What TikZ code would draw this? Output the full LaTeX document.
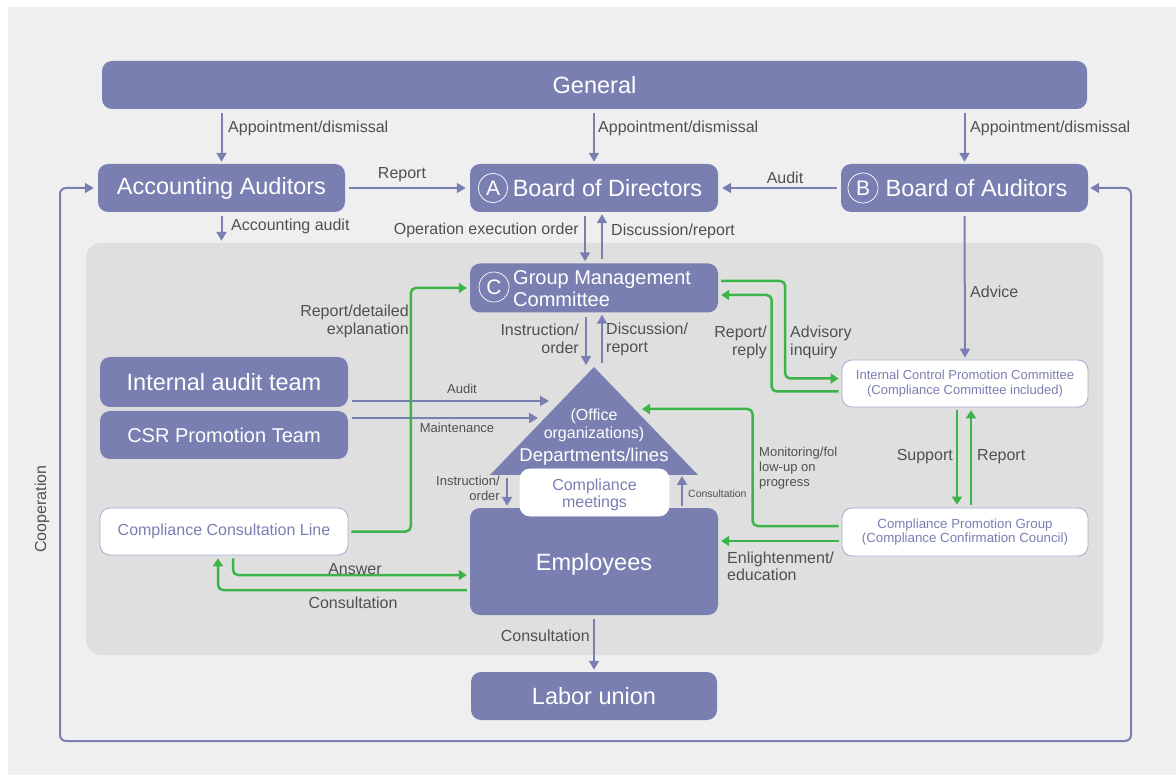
\documentclass[tikz,border=0pt]{standalone}
\usepackage{fontspec}
\setmainfont{Liberation Sans}
\usetikzlibrary{arrows.meta,calc}

\definecolor{boxpurple}{RGB}{122,127,178}
\definecolor{boxline}{RGB}{168,171,208}
\definecolor{grn}{RGB}{59,181,74}
\definecolor{lblgray}{RGB}{80,80,80}
\definecolor{bggray}{RGB}{239,239,239}
\definecolor{panelgray}{RGB}{223,223,223}

\tikzset{
  box/.style={fill=boxpurple, rounded corners=10pt, text=white, inner sep=0pt,
    font=\fontsize{23.5}{26}\selectfont, minimum height=48pt},
  wbox/.style={fill=white, draw=boxline, line width=0.8pt, rounded corners=10pt,
    text=boxpurple, inner sep=0pt, align=center},
  circ/.style={circle, draw=white, line width=0.7pt, minimum size=29pt, inner sep=0pt,
    text=white, font=\fontsize{21}{21}\selectfont},
  parr/.style={draw=boxpurple, line width=2pt, -{Triangle[length=9pt,width=10pt]},
    shorten <=4pt, shorten >=2pt},
  garr/.style={draw=grn, line width=2.5pt, -{Triangle[length=8pt,width=10pt]},
    rounded corners=5pt, shorten <=3pt, shorten >=3pt},
  lbl/.style={text=lblgray, inner sep=0pt, font=\fontsize{16}{18}\selectfont},
  sml/.style={lbl, font=\fontsize{13}{15}\selectfont},
}

\begin{document}
\begin{tikzpicture}[x=1pt,y=-1pt]
\useasboundingbox (0,0) rectangle (1176,783);
\fill[bggray] (8,7) rectangle (1176,775);
\node[fill=panelgray, rounded corners=15pt, minimum width=1017pt, minimum height=412pt] (panel) at (594.5,449) {};

% boxes
\node[box, minimum width=985pt] (gen) at (594.5,85) {General};
\node[box, minimum width=247pt] (aa) at (221.5,188) {Accounting Auditors};
\node[box, minimum width=248pt] (bod) at (594,188) {};
\node[box, minimum width=247pt] (boa) at (964.5,188) {};
\node[box, minimum width=248pt, minimum height=49pt] (gmc) at (594,288) {};
\node[box, minimum width=248pt, minimum height=50pt] (iat) at (224,382) {Internal audit team};
\node[box, minimum width=248pt, font=\fontsize{20}{22}\selectfont] (csr) at (224,435) {CSR Promotion Team};
\node[wbox, minimum width=248pt, minimum height=47pt, font=\fontsize{16}{18}\selectfont] (ccl) at (224,531.5) {Compliance Consultation Line};
\node[box, minimum width=248pt, minimum height=107pt] (emp) at (594,561.5) {};
\node[text=white, inner sep=0pt, font=\fontsize{23.5}{26}\selectfont] (empT) at (594,564) {Employees};
\node[box, minimum width=246pt] (lu) at (594,696) {Labor union};
\node[wbox, minimum width=246pt, minimum height=47pt, font=\fontsize{13}{15}\selectfont] (icpc) at (965,383.5)
  {Internal Control Promotion Committee\\(Compliance Committee included)};
\node[wbox, minimum width=246pt, minimum height=48pt, font=\fontsize{13.3}{14.5}\selectfont] (cpg) at (965,532)
  {Compliance Promotion Group\\(Compliance Confirmation Council)};

% circled letters
\node[circ] (cA) at (493,188) {A};
\node[text=white, inner sep=0pt, font=\fontsize{23.5}{26}\selectfont] (bodT) at (607.5,188) {Board of Directors};
\node[circ, minimum size=30pt] (cB) at (863,188) {B};
\node[text=white, inner sep=0pt, font=\fontsize{23.5}{26}\selectfont] (boaT) at (976.5,188) {Board of Auditors};
\node[circ, minimum size=30pt] (cC) at (494,287) {C};
\node[text=white, inner sep=0pt, anchor=west, align=left, font=\fontsize{20}{22}\selectfont] (gmcT) at (513,289)
  {Group Management\\Committee};

% departments triangle
\coordinate (apex) at (594,367);
\coordinate (bl) at (490,475);
\coordinate (br) at (698,475);
\fill[boxpurple] (apex) -- (br) -- (bl) -- cycle;
\node[text=white, inner sep=0pt, align=center, font=\fontsize{16}{18}\selectfont] (office) at (594,425) {(Office\\organizations)};
\node[text=white, inner sep=0pt, font=\fontsize{18.5}{20}\selectfont] (dept) at (594,457) {Departments/lines};
\node[wbox, draw=white, minimum width=149pt, minimum height=47pt] (cm) at (594.5,492.5) {};
\node[text=boxpurple, inner sep=0pt, align=center, font=\fontsize{16}{17}\selectfont] (cmT) at (594.5,495)
  {Compliance\\meetings};

% purple connectors
\draw[parr] (gen.south -| aa.north) -- (aa.north);
\draw[parr] (gen.south -| bod.north) -- (bod.north);
\draw[parr] (gen.south -| boa.north) -- (boa.north);
\node[lbl, anchor=west] (lApp1) at (228,128) {Appointment/dismissal};
\node[lbl, anchor=west] (lApp2) at (598,128) {Appointment/dismissal};
\node[lbl, anchor=west] (lApp3) at (970,128) {Appointment/dismissal};

\draw[parr, shorten >=4pt] (aa.east) -- (bod.west);
\node[lbl] (lRep) at (402,175) {Report};
\draw[parr, shorten >=4pt] (boa.west) -- (bod.east);
\node[lbl] (lAud) at (785,178) {Audit};

\draw[parr] (aa.south) -- (aa.south |- panel.north);
\node[lbl, anchor=west] (lAcc) at (231,226) {Accounting audit};

\draw[parr] ([xshift=-9pt]bod.south) -- ([xshift=-9pt]gmc.north);
\draw[parr] ([xshift=8pt]gmc.north) -- ([xshift=8pt]bod.south);
\node[lbl, anchor=east] (lOpe) at (579,230) {Operation execution order};
\node[lbl, anchor=west] (lDis) at (611,231) {Discussion/report};

\draw[parr] ([xshift=-8pt]gmc.south) -- ([xshift=-8pt]apex);
\draw[parr] ([xshift=8pt]apex) -- ([xshift=8pt]gmc.south);
\node[lbl, anchor=east, align=right] (lIns) at (579,339) {Instruction/\\order};
\node[lbl, anchor=west, align=left] (lDis2) at (606,339) {Discussion/\\report};

\draw[parr] (boa.south) -- (icpc.north);
\node[lbl, anchor=west] (lAdv) at (970,292) {Advice};

\coordinate (audE) at (549,401);
\coordinate (mntE) at (538,418);
\draw[parr, shorten >=0pt] (iat.east |- audE) -- (audE);
\draw[parr, shorten >=0pt] (csr.east |- mntE) -- (mntE);
\node[sml] (lAud2) at (462,389) {Audit};
\node[sml] (lMnt) at (457,428) {Maintenance};

\coordinate (insT) at (507,475);
\coordinate (conT) at (682,475);
\draw[parr, shorten <=3pt] (insT) -- (insT |- emp.north);
\draw[parr, shorten <=2pt, shorten >=1pt] (conT |- emp.north) -- (conT);
\node[sml, anchor=east, align=right] (lIns2) at (500,488) {Instruction/\\order};
\node[lbl, anchor=west, font=\fontsize{10.5}{12}\selectfont] (lCon2) at (688,494) {Consultation};

\draw[parr] (emp.south) -- (lu.north);
\node[lbl, anchor=east] (lCon3) at (590,636) {Consultation};

% cooperation loop
\coordinate (coopL) at (60,741);
\coordinate (coopR) at (1131,741);
\draw[parr, {Triangle[length=9pt,width=10pt]}-{Triangle[length=9pt,width=10pt]}, rounded corners=6pt]
  (aa.west) -| (coopL) -- (coopR) |- (boa.east);
\node[lbl, rotate=90] (lCoop) at (42,509) {Cooperation};

% green connectors
\draw[garr] (ccl.east) -| ($(gmc.west)+(-59,0)$) -- (gmc.west);
\node[lbl, anchor=east, align=right] (lRde) at (409,321) {Report/detailed\\explanation};

\draw[garr] ([yshift=7pt]gmc.east) -- ++(67,0) |- ([yshift=5pt]icpc.west);
\draw[garr] ([yshift=-8pt]icpc.west) -- ++(-70,0) |- ([yshift=-7pt]gmc.east);
\node[lbl, anchor=east, align=right] (lRr) at (767,342.5) {Report/\\reply};
\node[lbl, anchor=west, align=left] (lAi) at (790,342.5) {Advisory\\inquiry};

\draw[garr] ([xshift=-8pt]icpc.south) -- ([xshift=-8pt]cpg.north);
\draw[garr] ([xshift=6pt]cpg.north) -- ([xshift=6pt]icpc.south);
\node[lbl, anchor=east] (lSup) at (953,457) {Support};
\node[lbl, anchor=west] (lRep2) at (977,457) {Report};

\coordinate (monE) at (642,409);
\draw[garr, shorten >=0pt] ([yshift=6pt]cpg.west) -- ++(-89,0) |- (monE);
\node[sml, anchor=west, align=left] (lMon) at (759,468) {Monitoring/fol\\low-up on\\progress};

\coordinate (cpgL) at ([yshift=-9pt]cpg.west);
\draw[garr] (cpgL) -- (emp.east |- cpgL);
\node[lbl, anchor=west, align=left, font=\fontsize{16}{17}\selectfont] (lEnl) at (727,566.5) {Enlightenment/\\education};

\draw[garr] ([xshift=9pt]ccl.south) |- ([yshift=-13.5pt]emp.west);
\node[lbl] (lAns) at (355,569) {Answer};
\draw[garr] ([yshift=-28.5pt]emp.west) -| ([xshift=-6pt]ccl.south);
\node[lbl] (lCon) at (353,603) {Consultation};
\end{tikzpicture}
\end{document}
